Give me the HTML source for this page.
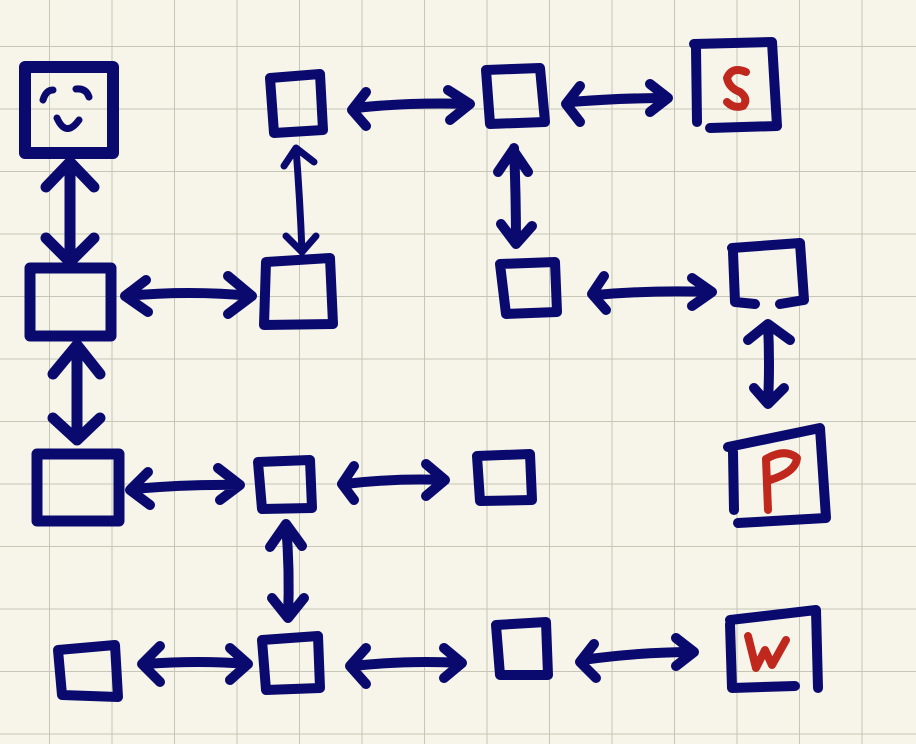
<!DOCTYPE html>
<html><head><style>
html,body{margin:0;padding:0;background:#f7f5ea;}
svg{display:block}
</style></head><body>
<svg width="916" height="744" viewBox="0 0 916 744" xmlns="http://www.w3.org/2000/svg">
<defs>
<pattern id="g" x="49" y="46" width="62.5" height="62.5" patternUnits="userSpaceOnUse">
<path d="M0 0 H62.5 M0 0 V62.5" stroke="#c6c6b6" stroke-width="2" fill="none"/>
</pattern>
</defs>
<rect width="916" height="744" fill="#f7f5ea"/>
<rect x="-20" y="-20" width="960" height="800" fill="url(#g)"/>
<g fill="none" stroke="#0a0a6e" stroke-linecap="round" stroke-linejoin="round" stroke-width="10">
<!-- face box -->
<rect x="25" y="67" width="88" height="86" stroke-width="12"/>
<path d="M43 100 Q46 90 53 90 M76 89 Q86 88 89 97 M57 118 Q66 138 79 120" stroke-width="7"/>
<!-- boxes -->
<path d="M270 78 L320 74 L323 130 L274 133 Z"/>
<path d="M486 70 L540 68 L545 122 L490 124 Z"/>
<path d="M694 44 L772 42 L777 126 L710 128 M696 48 L697 122"/>
<rect x="30" y="268" width="81" height="68" stroke-width="11"/>
<path d="M266 262 L330 258 L333 324 L264 325 Z"/>
<path d="M500 264 L555 262 L557 312 L506 314 Z"/>
<path d="M732 248 L800 243 L804 300 L780 304 M733 252 L735 302 L755 304"/>
<rect x="37" y="454" width="82" height="67" stroke-width="11"/>
<path d="M258 462 L310 460 L312 508 L262 509 Z"/>
<path d="M477 456 L530 454 L532 500 L480 501 Z"/>
<path d="M728 447 L820 428 L826 518 L738 523 M733 452 L734 510"/>
<path d="M58 650 L115 645 L118 697 L62 695 Z"/>
<path d="M262 640 L318 636 L320 688 L266 690 Z"/>
<path d="M496 625 L546 622 L548 675 L500 675 Z"/>
<path d="M730 620 L816 610 L818 688 M730 624 L732 688 L795 686"/>
</g>
<g fill="none" stroke="#c0281e" stroke-linecap="round" stroke-linejoin="round" stroke-width="8">
<path d="M746 72 Q732 66 727 78 Q729 88 740 92 Q749 99 743 106 Q734 109 727 102"/>
<path d="M768 510 L766 459 Q785 448 797 458 Q796 472 770 480"/>
<path d="M748 636 L756 668 L765 650 L772 665 L786 640"/>
</g>
<g fill="none" stroke="#0a0a6e" stroke-linecap="round" stroke-linejoin="round" stroke-width="10">
<path d="M70 162 V262 M46 187 L70 162 L94 187 M46 238 L70 262 L94 238" stroke-width="11"/>
<path d="M77 345 V440 M53 374 L77 345 L100 374 M53 418 L77 440 L100 418" stroke-width="11"/>
<path d="M125 296 Q190 290 252 296 M146 280 L125 296 L148 312 M228 276 L252 296 L228 314"/>
<path d="M355 108 Q410 102 470 104 M366 92 L352 110 L366 126 M448 90 L470 104 L450 120"/>
<path d="M570 102 Q620 98 668 98 M580 86 L566 104 L580 122 M650 84 L668 98 L650 112"/>
<path d="M596 295 Q650 290 712 292 M604 276 L592 294 L606 310 M692 278 L712 292 L692 306"/>
<path d="M132 489 Q190 484 240 485 M148 472 L130 490 L150 505 M218 468 L240 485 L220 500"/>
<path d="M345 484 Q395 478 445 480 M354 466 L342 484 L354 500 M426 464 L445 480 L426 496"/>
<path d="M145 664 Q200 660 248 664 M160 646 L142 664 L160 682 M230 648 L248 664 L230 680"/>
<path d="M352 666 Q410 660 462 663 M366 648 L350 666 L366 684 M444 648 L462 663 L444 678"/>
<path d="M582 660 Q640 652 694 652 M594 644 L580 662 L596 678 M676 638 L694 652 L676 666"/>
<path d="M296 148 Q300 200 302 252 M284 166 L296 148 L314 162 M286 236 L302 252 L316 236" stroke-width="7"/>
<path d="M514 148 Q516 195 516 244 M498 172 L513 150 L528 172 M501 224 L516 244 L532 226"/>
<path d="M768 324 Q770 365 768 402 M748 340 L768 324 L790 340 M754 388 L768 404 L784 388"/>
<path d="M286 524 Q290 570 288 618 M270 547 L286 524 L302 546 M272 598 L288 618 L304 598"/>
</g>
</svg>
</body></html>
